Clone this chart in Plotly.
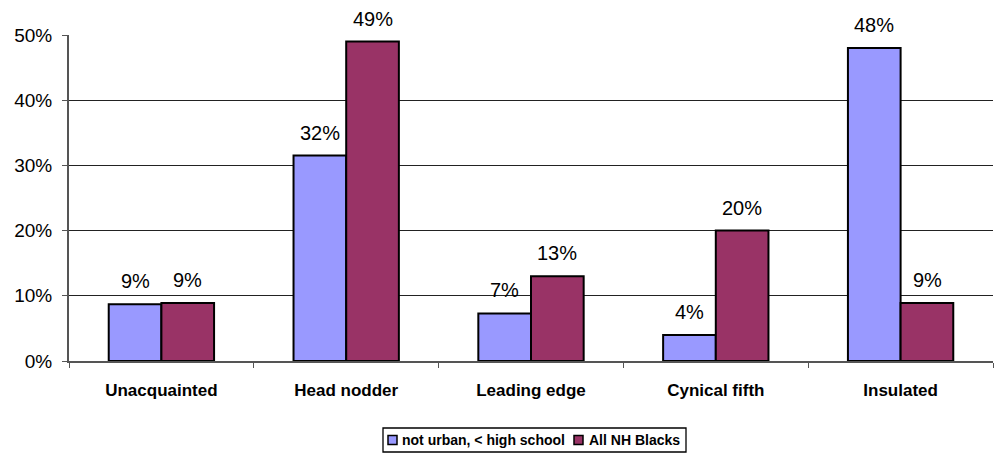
import plotly.graph_objects as go

categories = ["Unacquainted", "Head nodder", "Leading edge", "Cynical fifth", "Insulated"]
not_urban = [8.7, 31.5, 7.3, 4.0, 48.0]
not_urban_labels = ["9%", "32%", "7%", "4%", "48%"]
all_nh = [8.9, 49.0, 13.0, 20.0, 8.9]
all_nh_labels = ["9%", "49%", "13%", "20%", "9%"]
y_ticks = [0, 10, 20, 30, 40, 50]
y_tick_text = ["0%", "10%", "20%", "30%", "40%", "50%"]
series_names = ["not urban, < high school", "All NH Blacks"]
series_colors = ["#9999FF", "#993366"]

FONT = "Liberation Sans, Arial, sans-serif"
W, H = 994, 455
ML, MR, MT, MB = 69, 1, 35, 94
PW, PH = W - ML - MR, H - MT - MB


def px(x):
    return (x - ML) / PW


def py(y):
    return (H - MB - y) / PH


fig = go.Figure()
fig.add_trace(go.Bar(
    x=categories, y=not_urban, name=series_names[0],
    marker=dict(color=series_colors[0], line=dict(color="black", width=2)),
))
fig.add_trace(go.Bar(
    x=categories, y=all_nh, name=series_names[1],
    marker=dict(color=series_colors[1], line=dict(color="black", width=2)),
))

# data labels above bars
half = 26.4
for vals, labs, shift in [(not_urban, not_urban_labels, -half), (all_nh, all_nh_labels, half)]:
    for c, v, t in zip(categories, vals, labs):
        fig.add_annotation(
            x=c, y=v, xref="x", yref="y", text=t, showarrow=False,
            xanchor="center", yanchor="bottom", xshift=shift, yshift=10,
            font=dict(family=FONT, size=20, color="black"),
        )

# legend box drawn in paper coordinates
fig.add_shape(type="rect", xref="paper", yref="paper",
              x0=px(383), x1=px(686), y0=py(428), y1=py(452),
              line=dict(color="black", width=1.3), fillcolor="white")
leg_items = [(388, 400), (574, 587)]
for (sx, tx), name, col in zip(leg_items, series_names, series_colors):
    fig.add_shape(type="rect", xref="paper", yref="paper",
                  x0=px(sx), x1=px(sx + 9), y0=py(435.5), y1=py(444.5),
                  line=dict(color="black", width=1.5), fillcolor=col)
    fig.add_annotation(x=px(tx), y=py(440), xref="paper", yref="paper",
                       text=name, showarrow=False, xanchor="left", yanchor="middle",
                       font=dict(family=FONT, size=14, color="black", weight="bold"))

fig.update_layout(
    width=W, height=H,
    margin=dict(l=ML, r=MR, t=MT, b=MB),
    paper_bgcolor="white", plot_bgcolor="white",
    barmode="group", bargap=0.43, bargroupgap=0,
    font=dict(family=FONT, color="black"),
    showlegend=False,
)
fig.update_xaxes(
    showline=True, linecolor="#555", linewidth=2,
    ticks="outside", tickson="boundaries", ticklen=5, tickcolor="#555",
    tickfont=dict(family=FONT, size=17, color="black", weight="bold"),
    ticklabelstandoff=13,
    showgrid=False,
)
fig.update_yaxes(
    range=[0, 50], tickvals=y_ticks, ticktext=y_tick_text,
    showline=True, linecolor="#555", linewidth=2,
    ticks="outside", ticklen=5, tickcolor="#555",
    tickfont=dict(family=FONT, size=19, color="black"),
    ticklabelstandoff=6,
    showgrid=True, gridcolor="#222", gridwidth=1,
    zeroline=False,
)

fig.write_html("out.html")
